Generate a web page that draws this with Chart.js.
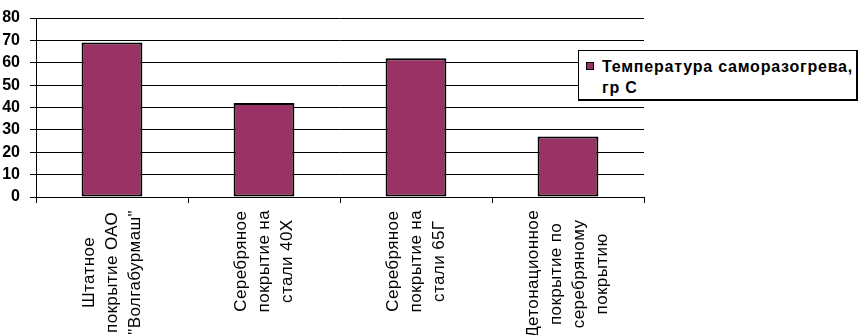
<!DOCTYPE html>
<html>
<head>
<meta charset="utf-8">
<script src="https://cdn.jsdelivr.net/npm/chart.js@4/dist/chart.umd.min.js"></script>
<style>
  html, body { margin: 0; padding: 0; background: #fff; }
  #wrap { position: relative; width: 861px; height: 335px; }
  #legend {
    position: absolute; left: 578px; top: 50px; width: 280px; height: 51px;
    border: 1px solid #000; border-right-width: 2px; border-bottom-width: 2px;
    background: #fff; box-sizing: border-box;
    font-family: "Liberation Sans", Arial, sans-serif; font-weight: bold; font-size: 16px;
    color: #000;
  }
  #legend .mk { position: absolute; left: 7px; top: 11px; width: 8px; height: 8px; box-sizing: border-box; border: 1px solid #000; }
  #legend .tx { position: absolute; left: 23px; top: 5px; line-height: 21px; letter-spacing: 0px; white-space: nowrap; }
</style>
</head>
<body>
<div id="wrap">
  <canvas id="c" width="861" height="335"></canvas>
  <div id="legend"><div class="mk"></div><div class="tx"></div></div>
</div>
<script>
const categories = [
  ['Штатное', 'покрытие ОАО', '"Волгабурмаш"'],
  ['Серебряное', 'покрытие на', 'стали 40Х'],
  ['Серебряное', 'покрытие на', 'стали 65Г'],
  ['Детонационное', 'покрытие по', 'серебряному', 'покрытию']
];
const seriesLabel = 'Температура саморазогрева, гр С';
const legendLines = ['Температура саморазогрева,', 'гр С'];
const seriesValues = [69, 42, 62, 27];
const yTicks = [0, 10, 20, 30, 40, 50, 60, 70, 80];

const barColor = '#993366';

const xLabelPlugin = {
  id: 'xLabels',
  afterDraw(chart) {
    const xs = chart.scales.x;
    const ctx = chart.ctx;
    ctx.save();
    ctx.font = '17px "Liberation Sans", Arial, sans-serif';
    if ('letterSpacing' in ctx) ctx.letterSpacing = '0.4px';
    ctx.fillStyle = '#000';
    ctx.textAlign = 'center';
    ctx.textBaseline = 'middle';
    const pitch = 23;
    const top = chart.chartArea.bottom + 13;
    xs.ticks.forEach((t, i) => {
      const lines = categories[i];
      const cx = xs.getPixelForTick(i);
      const W = Math.max(...lines.map(l => ctx.measureText(l).width));
      const yc = top + W / 2;
      const n = lines.length;
      lines.forEach((line, j) => {
        const x = cx + (j - (n - 1) / 2) * pitch;
        ctx.save();
        ctx.translate(x, yc);
        ctx.rotate(-Math.PI / 2);
        ctx.fillText(line, 0, 0);
        ctx.restore();
      });
    });
    ctx.restore();
  }
};

const chart = new Chart(document.getElementById('c'), {
  type: 'bar',
  data: {
    labels: categories.map(c => c.join(' ')),
    datasets: [{
      label: seriesLabel,
      data: seriesValues,
      backgroundColor: barColor,
      borderColor: '#000',
      borderWidth: 2,
      borderSkipped: false,
      barPercentage: 0.4,
      categoryPercentage: 1.0
    }]
  },
  options: {
    responsive: false,
    animation: false,
    devicePixelRatio: 1,
    layout: { padding: { top: 8, right: 217, left: 0, bottom: 0 } },
    plugins: { legend: { display: false }, tooltip: { enabled: false } },
    scales: {
      x: {
        offset: true,
        grid: { display: true, drawOnChartArea: false, drawTicks: true, tickLength: 6, color: '#000', lineWidth: 1 },
        border: { display: true, color: '#000', width: 1 },
        ticks: { display: false },
        afterFit(scale) { scale.height = 138; }
      },
      y: {
        min: 0, max: 80,
        afterBuildTicks(scale) { scale.ticks = yTicks.map(v => ({ value: v })); },
        grid: { color: '#000', lineWidth: 1, drawTicks: true, tickLength: 6 },
        border: { display: true, color: '#000', width: 1 },
        ticks: {
          stepSize: 10,
          color: '#000',
          padding: 10,
          font: { family: '"Liberation Sans", Arial, sans-serif', size: 16, weight: 'bold', lineHeight: 1 }
        },
        afterFit(scale) { scale.width = 36; }
      }
    }
  },
  plugins: [xLabelPlugin]
});

const lg = document.getElementById('legend');
lg.querySelector('.mk').style.background = chart.data.datasets[0].backgroundColor;
const tx = lg.querySelector('.tx');
tx.innerHTML = legendLines.join('<br>');
// fit first legend line to the width seen in the reference (about 251px)
const meas = document.createElement('span');
meas.style.cssText = 'position:absolute;visibility:hidden;white-space:nowrap;font:bold 16px "Liberation Sans", Arial, sans-serif;';
meas.textContent = legendLines[0];
document.body.appendChild(meas);
const w0 = meas.getBoundingClientRect().width;
document.body.removeChild(meas);
const sp = Math.max(0, (251 - w0) / legendLines[0].length);
tx.style.letterSpacing = sp.toFixed(2) + 'px';
</script>
</body>
</html>
